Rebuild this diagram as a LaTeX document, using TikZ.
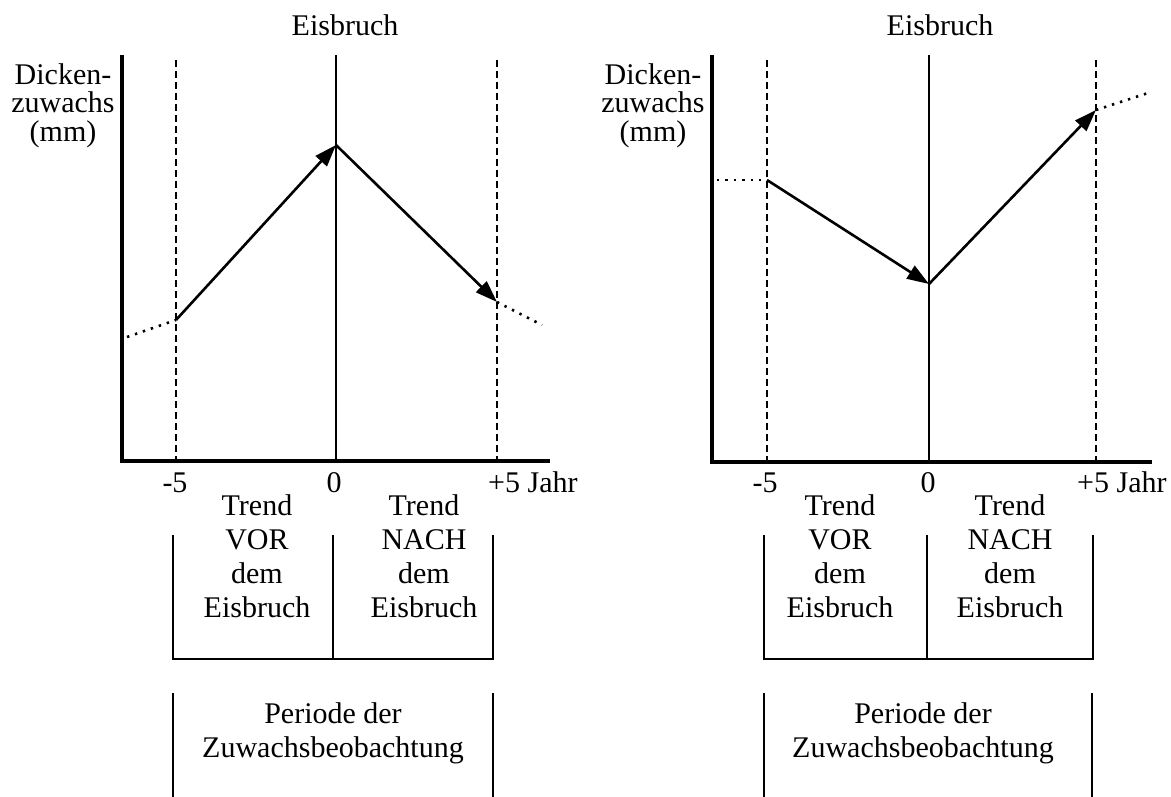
\documentclass[tikz,border=0pt]{standalone}
\usepackage{fontspec}
\setmainfont{Liberation Serif}
\usetikzlibrary{arrows.meta}
\tikzset{
  lbl/.style={font=\fontsize{30}{34}\selectfont, inner sep=0pt, anchor=base},
  axisline/.style={line width=3.2pt},
  breakline/.style={line width=2.6pt},
  guide/.style={line width=2.4pt, dash pattern=on 7pt off 4pt},
  trendarrow/.style={line width=2.6pt, -{Triangle[length=22pt,width=15pt]}},
  extension/.style={line width=2.6pt, dash pattern=on 2.4pt off 6pt},
  bracket/.style={line width=2.8pt},
}
\begin{document}
\begin{tikzpicture}[x=1pt,y=-1pt]
\useasboundingbox (0,0) rectangle (1171,797);

% ---------------- left panel: growth peak at the ice break ----------------
\node[lbl] (lEis) at (345,36) {Eisbruch};
\node[lbl] (lY1) at (63,85) {Dicken-};
\node[lbl] (lY2) at (63,113) {zuwachs};
\node[lbl] (lY3) at (63,142) {(mm)};

\coordinate (lTop) at (122,55);
\coordinate (lO) at (122,461);
\coordinate (lEnd) at (550,461);
\draw[axisline] (lTop) -- (lO) -- (lEnd);

\coordinate (lZt) at (336,55);
\coordinate (lZb) at (336,461);
\draw[breakline] (lZt) -- (lZb);

\coordinate (lMt) at (176,60);
\coordinate (lMb) at (176,461);
\coordinate (lPt) at (497,60);
\coordinate (lPb) at (497,461);
\draw[guide] (lMt) -- (lMb);
\draw[guide] (lPt) -- (lPb);

\coordinate (lA0) at (127,337);
\coordinate (lA1) at (176,320);
\coordinate (lA2) at (336,145);
\coordinate (lA3) at (497,302);
\coordinate (lA4) at (542,325);
\draw[extension] (lA0) -- (lA1);
\draw[trendarrow] (lA1) -- (lA2);
\draw[trendarrow] (lA2) -- (lA3);
\draw[extension] (lA3) -- (lA4);

\node[lbl] (lTm) at (175,492) {-5};
\node[lbl] (lT0) at (334,492) {0};
\node[lbl, anchor=base west] (lTp) at (488,492) {+5 Jahr};

\node[lbl] (lV1) at (257,515) {Trend};
\node[lbl] (lV2) at (257,549) {VOR};
\node[lbl] (lV3) at (257,583) {dem};
\node[lbl] (lV4) at (257,617) {Eisbruch};
\node[lbl] (lN1) at (424,515) {Trend};
\node[lbl] (lN2) at (424,549) {NACH};
\node[lbl] (lN3) at (424,583) {dem};
\node[lbl] (lN4) at (424,617) {Eisbruch};

\coordinate (lB1t) at (173,535);
\coordinate (lB1b) at (173,659);
\coordinate (lB2t) at (333,535);
\coordinate (lB2b) at (333,659);
\coordinate (lB3t) at (493,535);
\coordinate (lB3b) at (493,659);
\draw[bracket] (lB1t) -- (lB1b) -- (lB3b) -- (lB3t);
\draw[bracket] (lB2t) -- (lB2b);

\node[lbl] (lP1) at (333,723) {Periode der};
\node[lbl] (lP2) at (333,757) {Zuwachsbeobachtung};
\coordinate (lQ1t) at (173,693);
\coordinate (lQ1b) at (173,797);
\coordinate (lQ2t) at (493,693);
\coordinate (lQ2b) at (493,797);
\draw[bracket] (lQ1t) -- (lQ1b);
\draw[bracket] (lQ2t) -- (lQ2b);

% ---------------- right panel: growth minimum at the ice break ----------------
\node[lbl] (rEis) at (940,36) {Eisbruch};
\node[lbl] (rY1) at (653,85) {Dicken-};
\node[lbl] (rY2) at (653,113) {zuwachs};
\node[lbl] (rY3) at (653,142) {(mm)};

\coordinate (rTop) at (712,55);
\coordinate (rO) at (712,462);
\coordinate (rEnd) at (1152,462);
\draw[axisline] (rTop) -- (rO) -- (rEnd);

\coordinate (rZt) at (929,55);
\coordinate (rZb) at (929,462);
\draw[breakline] (rZt) -- (rZb);

\coordinate (rMt) at (767,60);
\coordinate (rMb) at (767,462);
\coordinate (rPt) at (1096,60);
\coordinate (rPb) at (1096,462);
\draw[guide] (rMt) -- (rMb);
\draw[guide] (rPt) -- (rPb);

\coordinate (rA0) at (717,180);
\coordinate (rA1) at (767,180);
\coordinate (rA2) at (929,284);
\coordinate (rA3) at (1096,110);
\coordinate (rA4) at (1148,93);
\draw[extension] (rA0) -- (rA1);
\draw[trendarrow] (rA1) -- (rA2);
\draw[trendarrow] (rA2) -- (rA3);
\draw[extension] (rA3) -- (rA4);

\node[lbl] (rTm) at (765,492) {-5};
\node[lbl] (rT0) at (928,492) {0};
\node[lbl, anchor=base west] (rTp) at (1077,492) {+5 Jahr};

\node[lbl] (rV1) at (840,515) {Trend};
\node[lbl] (rV2) at (840,549) {VOR};
\node[lbl] (rV3) at (840,583) {dem};
\node[lbl] (rV4) at (840,617) {Eisbruch};
\node[lbl] (rN1) at (1010,515) {Trend};
\node[lbl] (rN2) at (1010,549) {NACH};
\node[lbl] (rN3) at (1010,583) {dem};
\node[lbl] (rN4) at (1010,617) {Eisbruch};

\coordinate (rB1t) at (764,535);
\coordinate (rB1b) at (764,659);
\coordinate (rB2t) at (927,535);
\coordinate (rB2b) at (927,659);
\coordinate (rB3t) at (1093,535);
\coordinate (rB3b) at (1093,659);
\draw[bracket] (rB1t) -- (rB1b) -- (rB3b) -- (rB3t);
\draw[bracket] (rB2t) -- (rB2b);

\node[lbl] (rP1) at (923,723) {Periode der};
\node[lbl] (rP2) at (923,757) {Zuwachsbeobachtung};
\coordinate (rQ1t) at (764,693);
\coordinate (rQ1b) at (764,797);
\coordinate (rQ2t) at (1092,693);
\coordinate (rQ2b) at (1092,797);
\draw[bracket] (rQ1t) -- (rQ1b);
\draw[bracket] (rQ2t) -- (rQ2b);
\end{tikzpicture}
\end{document}
